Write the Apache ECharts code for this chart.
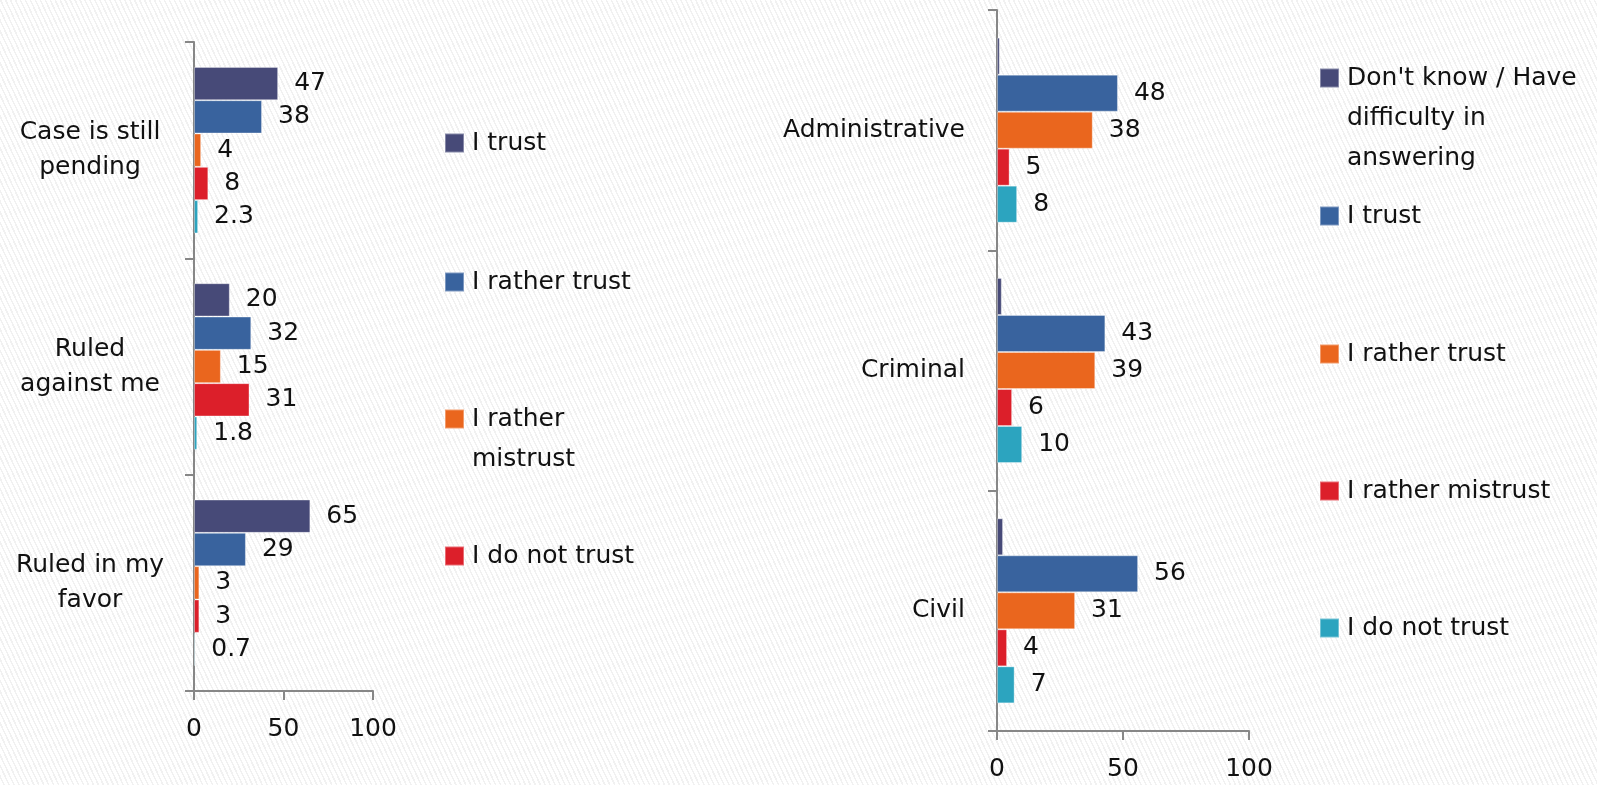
<!DOCTYPE html>
<html>
<head>
<meta charset="utf-8">
<script src="https://cdn.jsdelivr.net/npm/echarts@6/dist/echarts.min.js"></script>
<style>
  html, body {
    margin: 0;
    padding: 0;
    width: 1597px;
    height: 785px;
    overflow: hidden;
    background: repeating-linear-gradient(65deg, #ffffff 0px, #ffffff 3px, #f1f1f1 3px, #f1f1f1 4.5px);
  }
  .chart {
    position: absolute;
    left: 0;
    top: 0;
    width: 1597px;
    height: 785px;
  }
</style>
</head>
<body>
<div id="leftChart" class="chart"></div>
<div id="rightChart" class="chart"></div>
<script>
// left chart: trust by case outcome
const leftCategories = ["Case is still\npending", "Ruled\nagainst me", "Ruled in my\nfavor"];
const leftNames = ["I trust", "I rather trust", "I rather mistrust", "I do not trust", "Don't know"];
const leftTrust = [47, 20, 65];
const leftRatherTrust = [38, 32, 29];
const leftRatherMistrust = [4, 15, 3];
const leftNotTrust = [8, 31, 3];
const leftDontKnow = [2.3, 1.8, 0.7];

// right chart: trust by court type
const rightCategories = ["Administrative", "Criminal", "Civil"];
const rightNames = ["Don't know / Have difficulty in answering", "I trust", "I rather trust", "I rather mistrust", "I do not trust"];
const rightDontKnow = [1.1, 1.9, 2.4];
const rightTrust = [48, 43, 56];
const rightRatherTrust = [38, 39, 31];
const rightRatherMistrust = [5, 6, 4];
const rightNotTrust = [8, 10, 7];

const xTicks = [0, 50, 100];

const colors = ["#474a78", "#39639e", "#ea661e", "#dc1f2a", "#2ca4bf"];
const font = "'DejaVu Sans', Verdana, sans-serif";
const textColor = "#111";
const axisColor = "#878787";
const lineH = 40;

// one legend component per item; leading blank lines keep the marker on the first text line
function buildLegends(names, wrapped, iconLeft, centers) {
  return names.map((name, i) => {
    const lines = wrapped[i].split("\n").length;
    const text = "\n".repeat(lines - 1) + wrapped[i];
    return {
      data: [name],
      left: iconLeft,
      top: centers[i] - ((2 * lines - 1) * lineH) / 2,
      padding: 0,
      icon: "rect",
      itemWidth: 19,
      itemHeight: 19,
      selectedMode: false,
      formatter: () => text,
      textStyle: {
        fontFamily: font,
        fontSize: 25,
        color: textColor,
        lineHeight: lineH,
        padding: [0, 0, 0, 3],
      },
    };
  });
}

function barSeries(name, data, color, showLabel) {
  return {
    name: name,
    type: "bar",
    data: data,
    barGap: "0%",
    barCategoryGap: "23%",
    itemStyle: {
      color: color,
      borderColor: "rgba(255,255,255,0.35)",
      borderWidth: 1,
    },
    label: {
      show: showLabel,
      position: "right",
      distance: 16,
      fontFamily: font,
      fontSize: 25,
      color: textColor,
    },
  };
}

function valueAxis() {
  return {
    type: "value",
    min: xTicks[0],
    max: xTicks[xTicks.length - 1],
    interval: xTicks[1] - xTicks[0],
    splitLine: { show: false },
    axisLine: { show: true, lineStyle: { color: axisColor, width: 2 } },
    axisTick: { show: true, length: 9, lineStyle: { color: axisColor, width: 2 } },
    axisLabel: { fontFamily: font, fontSize: 25, color: textColor, margin: 26 },
  };
}

function categoryAxis(categories, align, margin) {
  return {
    type: "category",
    inverse: true,
    data: categories,
    axisLine: { show: true, lineStyle: { color: axisColor, width: 2 } },
    axisTick: { show: true, length: 9, lineStyle: { color: axisColor, width: 2 } },
    axisLabel: {
      fontFamily: font,
      fontSize: 25,
      color: textColor,
      lineHeight: 35,
      align: align,
      margin: margin,
    },
  };
}

const leftChart = echarts.init(document.getElementById("leftChart"));
leftChart.setOption({
  animation: false,
  grid: { left: 194, top: 42, width: 179, height: 649 },
  xAxis: valueAxis(),
  yAxis: categoryAxis(leftCategories, "center", 104),
  legend: buildLegends(
    leftNames.slice(0, 4),
    ["I trust", "I rather trust", "I rather\nmistrust", "I do not trust"],
    444,
    [143, 282, 419, 556]
  ),
  series: [
    barSeries(leftNames[0], leftTrust, colors[0], true),
    barSeries(leftNames[1], leftRatherTrust, colors[1], true),
    barSeries(leftNames[2], leftRatherMistrust, colors[2], true),
    barSeries(leftNames[3], leftNotTrust, colors[3], true),
    barSeries(leftNames[4], leftDontKnow, colors[4], true),
  ],
});

const rightChart = echarts.init(document.getElementById("rightChart"));
rightChart.setOption({
  animation: false,
  grid: { left: 997, top: 10, width: 252, height: 721 },
  xAxis: valueAxis(),
  yAxis: categoryAxis(rightCategories, "right", 32),
  legend: buildLegends(
    rightNames,
    ["Don't know / Have\ndifficulty in\nanswering", "I trust", "I rather trust", "I rather mistrust", "I do not trust"],
    1319,
    [78, 216, 354, 491, 628]
  ),
  series: [
    barSeries(rightNames[0], rightDontKnow, colors[0], false),
    barSeries(rightNames[1], rightTrust, colors[1], true),
    barSeries(rightNames[2], rightRatherTrust, colors[2], true),
    barSeries(rightNames[3], rightRatherMistrust, colors[3], true),
    barSeries(rightNames[4], rightNotTrust, colors[4], true),
  ],
});
</script>
</body>
</html>
